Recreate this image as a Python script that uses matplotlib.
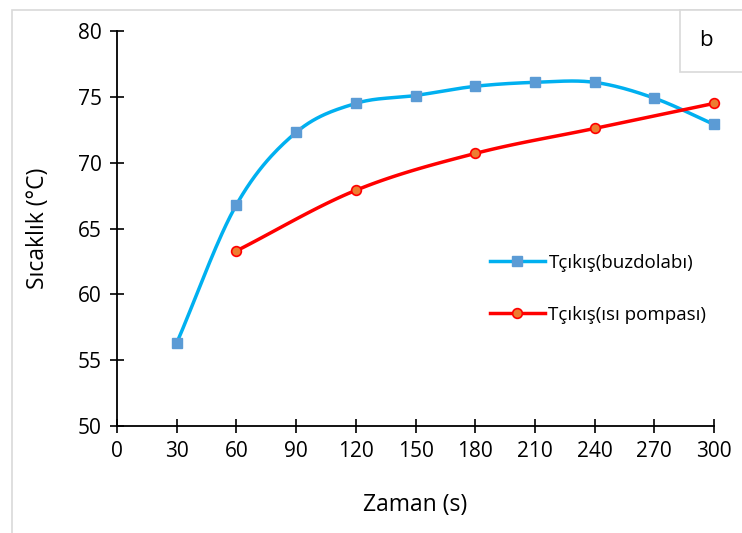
import numpy as np
import matplotlib.pyplot as plt
from matplotlib.patches import Rectangle

plt.rcParams['font.family'] = ['Open Sans', 'DejaVu Sans']

t_buz = [30, 60, 90, 120, 150, 180, 210, 240, 270, 300]
T_buz = [56.3, 66.8, 72.3, 74.5, 75.1, 75.8, 76.1, 76.1, 74.9, 72.9]
t_isi = [60, 120, 180, 240, 300]
T_isi = [63.3, 67.9, 70.7, 72.6, 74.5]
xticks = list(range(0, 301, 30))
yticks = list(range(50, 81, 5))


def smooth(x, y, n=30):
    # catmull-rom style smoothing like Excel's smoothed lines
    x = np.asarray(x, float)
    y = np.asarray(y, float)
    px = np.concatenate([[2 * x[0] - x[1]], x, [2 * x[-1] - x[-2]]])
    py = np.concatenate([[2 * y[0] - y[1]], y, [2 * y[-1] - y[-2]]])
    xs, ys = [], []
    s = np.linspace(0, 1, n)
    for i in range(1, len(px) - 2):
        for p, out in ((px, xs), (py, ys)):
            p0, p1, p2, p3 = p[i - 1], p[i], p[i + 1], p[i + 2]
            m1 = (p2 - p0) / 2
            m2 = (p3 - p1) / 2
            h00 = 2 * s**3 - 3 * s**2 + 1
            h10 = s**3 - 2 * s**2 + s
            h01 = -2 * s**3 + 3 * s**2
            h11 = s**3 - s**2
            out.extend(h00 * p1 + h10 * m1 + h01 * p2 + h11 * m2)
    return xs, ys


fig = plt.figure(figsize=(7.42, 5.33), dpi=100)
ax = fig.add_axes([117 / 742, 107 / 533, 597 / 742, 395 / 533])

fig.patches.append(Rectangle((12 / 742, -0.1), 1.0, (523 / 533) + 0.1, transform=fig.transFigure,
                             fill=False, edgecolor='#d9d9d9', lw=1.2))
fig.patches.append(Rectangle((680 / 742, (533 - 72) / 533), 0.2, 62 / 533, transform=fig.transFigure,
                             facecolor='white', edgecolor='#d9d9d9', lw=1.2))
fig.text(706 / 742, (533 - 41) / 533, 'b', fontsize=16, ha='center', va='center')

sx, sy = smooth(t_buz, T_buz)
ax.plot(sx, sy, color='#00B0F0', lw=2.5)
ax.plot(t_buz, T_buz, ls='none', marker='s', ms=7, color='#5B9BD5', mec='#5B9BD5')
ax.plot([], [], color='#00B0F0', lw=2.5, marker='s', ms=7, mfc='#5B9BD5', mec='#5B9BD5',
        label='Tçıkış(buzdolabı)')

sx, sy = smooth(t_isi, T_isi)
ax.plot(sx, sy, color='#FF0000', lw=2.5)
ax.plot(t_isi, T_isi, ls='none', marker='o', ms=7, mfc='#ED7D31', mec='#FF0000', mew=1.2)
ax.plot([], [], color='#FF0000', lw=2.5, marker='o', ms=7, mfc='#ED7D31', mec='#FF0000', mew=1.2,
        label='Tçıkış(ısı pompası)')

ax.set_xlim(0, 300)
ax.set_ylim(50, 80)
ax.set_xticks(xticks)
ax.set_yticks(yticks)
ax.tick_params(direction='inout', length=10, width=1.2, labelsize=15, pad=6)
for s in ('top', 'right'):
    ax.spines[s].set_visible(False)
for s in ('left', 'bottom'):
    ax.spines[s].set_linewidth(1.3)
for ln in ax.lines:
    ln.set_clip_on(False)

ax.set_xlabel('Zaman (s)', fontsize=16.5, labelpad=22)
ax.set_ylabel('Sıcaklık (°C)', fontsize=16.5, labelpad=20)

ax.legend(loc='center left', bbox_to_anchor=(0.597, 0.347), frameon=False, fontsize=13.5,
          labelspacing=1.8, handlelength=2.9, handletextpad=0.2)

fig.savefig('out.png', dpi=100)
